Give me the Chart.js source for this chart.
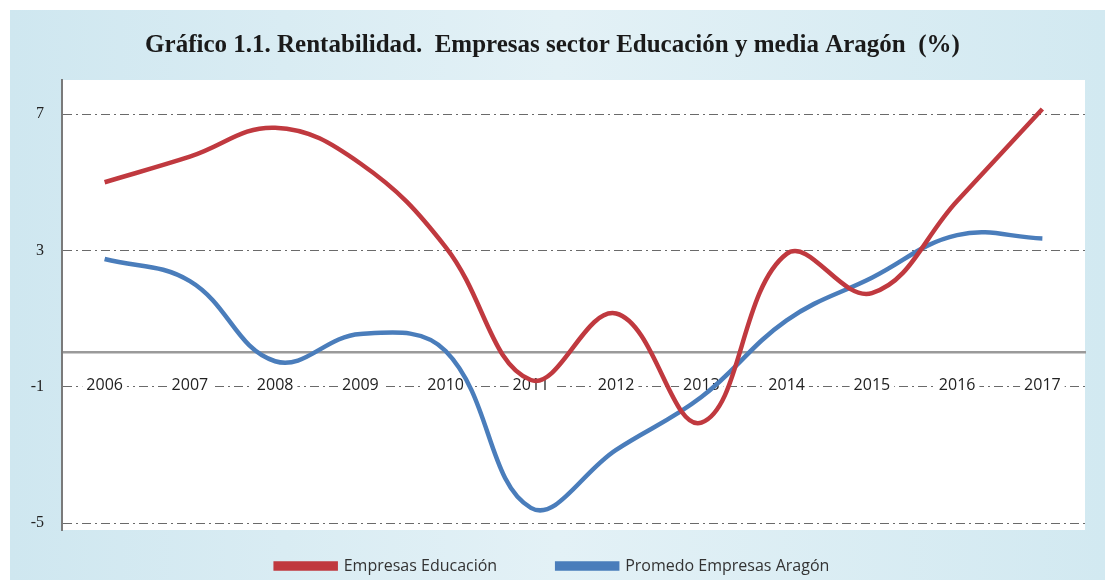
<!DOCTYPE html>
<html>
<head>
<meta charset="utf-8">
<script src="https://cdn.jsdelivr.net/npm/chart.js@4/dist/chart.umd.min.js"></script>
<style>
    html, body { margin: 0; padding: 0; background: #ffffff; }
    #wrap { width: 1105px; height: 580px; position: relative; }
</style>
</head>
<body>
<div id="wrap"><canvas id="rentChart"></canvas></div>
<script>
// Datos del gráfico
const years = ['2006', '2007', '2008', '2009', '2010', '2011', '2012', '2013', '2014', '2015', '2016', '2017'];
const educacion = [5.0, 5.75, 6.6, 5.55, 3.1, -0.8, 1.15, -2.05, 2.9, 1.75, 4.45, 7.15];
const aragon = [2.75, 2.1, -0.25, 0.55, 0.05, -4.55, -2.85, -1.3, 0.95, 2.2, 3.45, 3.35];
const yTicks = [-5, -1, 3, 7];

// Fondo azul claro + área de trazado blanca
const panelBackground = {
    id: 'panelBackground',
    beforeDraw(chart) {
        const { ctx, chartArea, width, height } = chart;
        ctx.save();
        ctx.fillStyle = '#ffffff';
        ctx.fillRect(0, 0, width, height);
        const grad = ctx.createLinearGradient(10, 0, width, 0);
        grad.addColorStop(0, '#cfe7f0');
        grad.addColorStop(0.5, '#e3f1f6');
        grad.addColorStop(1, '#d2e9f1');
        ctx.fillStyle = grad;
        ctx.fillRect(10, 10, width - 10, height - 10);
        ctx.fillStyle = '#ffffff';
        ctx.fillRect(chartArea.left, chartArea.top, chartArea.right - chartArea.left, chartArea.bottom - chartArea.top);
        ctx.restore();
    }
};

// La leyenda usa un padding grande para separar los elementos; subimos su borde superior
const legendNudge = {
    id: 'legendNudge',
    afterLayout(chart) {
        if (chart.legend) {
            chart.legend.top -= 32;
        }
    }
};

const ctx = document.getElementById('rentChart');

new Chart(ctx, {
    type: 'line',
    data: {
        labels: years,
        datasets: [{
            label: 'Empresas Educación',
            data: educacion,
            borderColor: '#c0393f',
            backgroundColor: '#c0393f',
            borderWidth: 4.5,
            tension: 0.4,
            pointRadius: 0,
            fill: false
        }, {
            label: 'Promedo Empresas Aragón',
            data: aragon,
            borderColor: '#4a7dbb',
            backgroundColor: '#4a7dbb',
            borderWidth: 4.5,
            tension: 0.4,
            pointRadius: 0,
            fill: false
        }]
    },
    options: {
        responsive: true,
        maintainAspectRatio: false,
        animation: false,
        layout: {
            padding: { left: 20, right: 20, top: 0, bottom: 0 }
        },
        plugins: {
            title: {
                display: true,
                text: 'Gráfico 1.1. Rentabilidad.  Empresas sector Educación y media Aragón  (%)',
                color: '#1a1a1a',
                font: { family: 'Liberation Serif', size: 25, weight: 'bold' },
                padding: { top: 31, bottom: 19 }
            },
            legend: {
                display: true,
                position: 'bottom',
                maxHeight: 50,
                labels: {
                    boxWidth: 60,
                    boxHeight: 5,
                    padding: 60,
                    color: '#333333',
                    font: { family: 'Open Sans', size: 16 }
                }
            },
            tooltip: { enabled: false }
        },
        scales: {
            x: {
                position: { y: 0 },
                offset: true,
                grid: { display: false, drawTicks: false },
                border: { display: true, color: '#9a9a9a', width: 2.5 },
                ticks: {
                    color: '#222222',
                    font: { family: 'Open Sans', size: 16 },
                    padding: 23,
                    maxRotation: 0,
                    autoSkip: false,
                    showLabelBackdrop: true,
                    backdropColor: '#ffffff',
                    backdropPadding: { top: 1, bottom: 1, left: 4, right: 4 }
                }
            },
            y: {
                min: -5.2,
                max: 8,
                afterBuildTicks: (scale) => {
                    scale.ticks = yTicks.map(v => ({ value: v }));
                },
                afterFit: (scale) => {
                    scale.width = 42;
                },
                grid: {
                    color: '#6a6a6a',
                    lineWidth: 1,
                    drawTicks: false
                },
                border: { display: true, color: '#7a7a7a', width: 2, dash: [9, 4, 2, 4] },
                ticks: {
                    color: '#222222',
                    font: { family: 'Liberation Serif', size: 16 },
                    padding: 18
                }
            }
        }
    },
    plugins: [panelBackground, legendNudge]
});
</script>
</body>
</html>
